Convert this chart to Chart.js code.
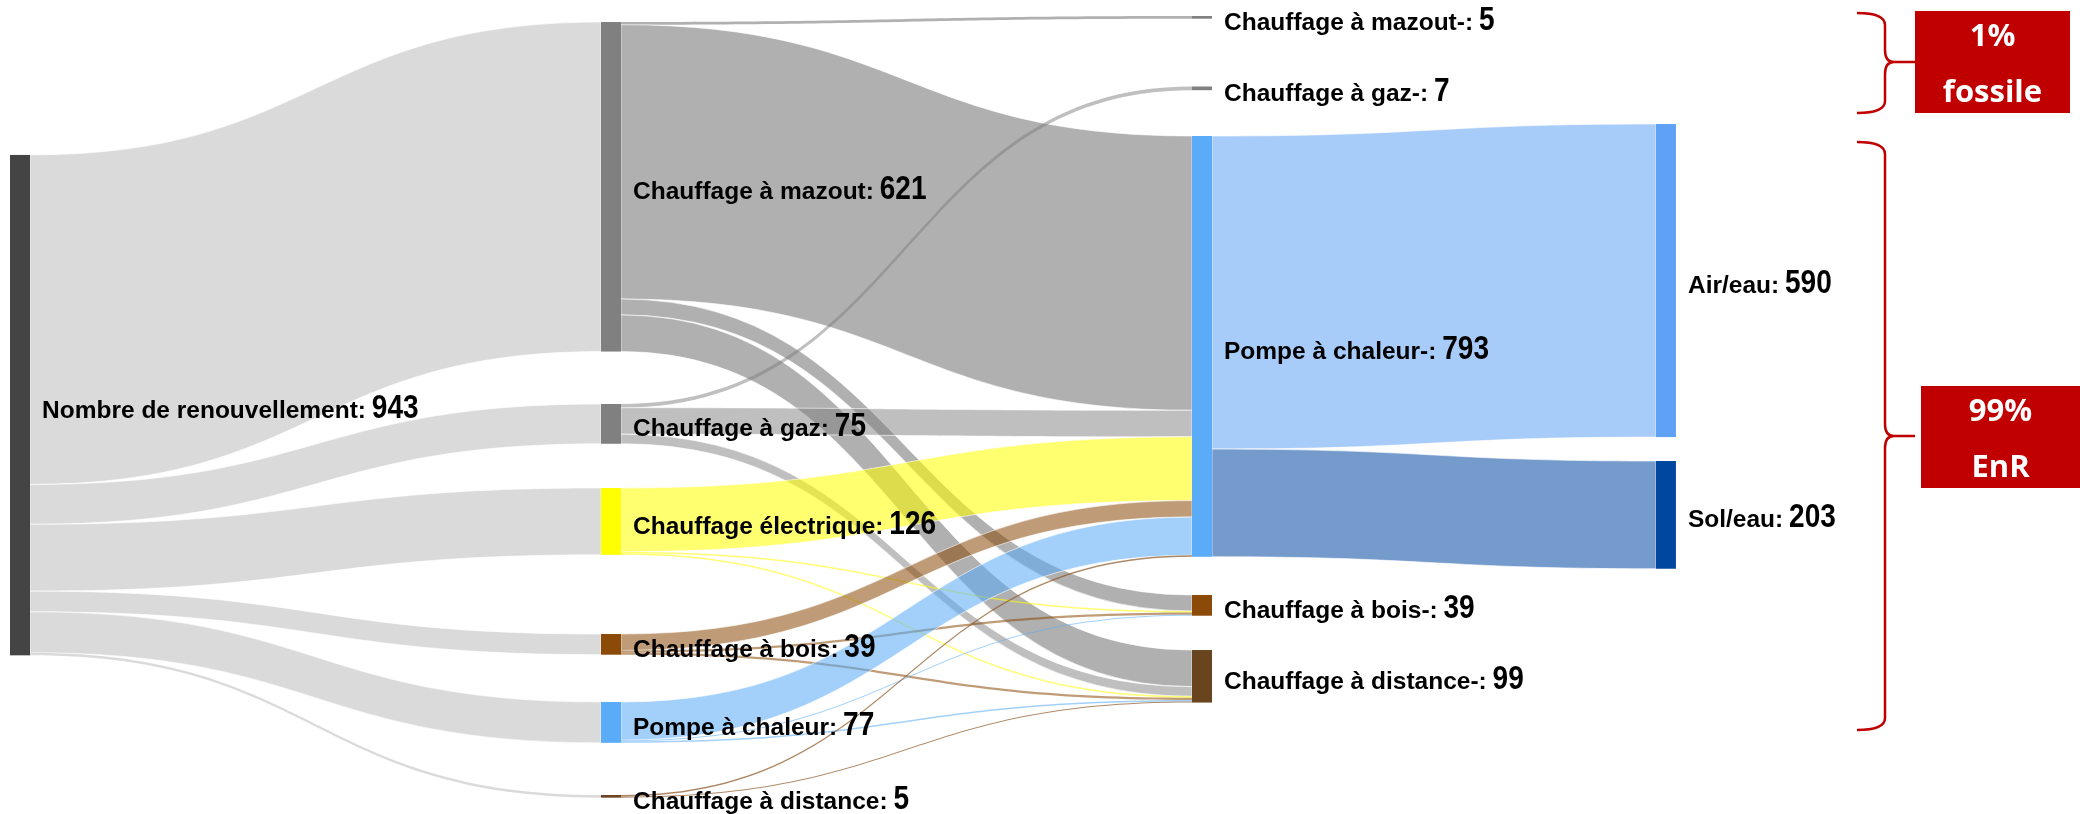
<!DOCTYPE html>
<html>
<head>
<meta charset="utf-8">
<script src="https://cdn.jsdelivr.net/npm/chart.js@4.4.1/dist/chart.umd.min.js"></script>
<style>
  html, body { margin: 0; padding: 0; background: #fff; }
</style>
</head>
<body>
<canvas id="sankey" width="2080" height="814"></canvas>
<script>
// nodes, column by column
const nodeNames = [
    'Nombre de renouvellement',
    'Chauffage à mazout', 'Chauffage à gaz', 'Chauffage électrique',
    'Chauffage à bois', 'Pompe à chaleur', 'Chauffage à distance',
    'Chauffage à mazout-', 'Chauffage à gaz-', 'Pompe à chaleur-',
    'Chauffage à bois-', 'Chauffage à distance-',
    'Air/eau', 'Sol/eau'
];
const nodeColumn = [0, 1, 1, 1, 1, 1, 1, 2, 2, 2, 2, 2, 3, 3];

// flows (source -> target)
const linkFrom = [0, 0, 0, 0, 0, 0,   1, 1, 1, 1,   2, 2, 2,   3, 3, 3,   4, 4, 4,   5, 5, 5,   6, 6,   9, 9];
const linkTo   = [1, 2, 3, 4, 5, 6,   7, 9, 10, 11, 8, 9, 11,  9, 10, 11, 9, 10, 11, 9, 10, 11, 9, 11,  12, 13];
const linkFlow = [621, 75, 126, 39, 77, 5,
                  5, 517, 30, 69,
                  7, 50, 18,
                  120, 3, 3,
                  31, 4, 4,
                  72, 2, 3,
                  3, 2,
                  590, 203];

// layout: column position on x, node top on the y (flow units)
const columnX = [0, 1, 2, 2.785];
const nodeTop = [292, 41.5, 761.3, 919.6, 1194.8, 1322.9, 1498.2, 30.2, 163, 256.3, 1121.3, 1225, 233.7, 868.8];
const nodeWidth = 20;

const nodeColors = ['#444444',
    '#808080', '#808080', '#ffff00', '#8b4a08', '#5aacf8', '#6b4523',
    '#808080', '#808080', '#5aacf8', '#8b4a08', '#68441f',
    '#5fa1f5', '#0047a0'];
const linkColorBySource = {
    0: 'rgba(204,204,204,0.72)',
    1: 'rgba(128,128,128,0.62)',
    2: 'rgba(128,128,128,0.5)',
    3: 'rgba(255,255,0,0.56)',
    4: 'rgba(139,74,8,0.55)',
    5: 'rgba(90,172,248,0.56)',
    6: 'rgba(140,85,35,0.7)'
};
const linkColorByTarget = {
    12: 'rgba(95,161,245,0.54)',
    13: 'rgba(0,71,160,0.54)'
};

function nodeValues() {
    const inSum = nodeNames.map(() => 0), outSum = nodeNames.map(() => 0);
    linkFlow.forEach((v, i) => { outSum[linkFrom[i]] += v; inSum[linkTo[i]] += v; });
    return nodeNames.map((n, i) => Math.max(inSum[i], outSum[i]));
}

function brace(ctx, xl, xm, xp, top, mid, bot) {
    const r = 12;
    ctx.beginPath();
    ctx.moveTo(xl, top);
    ctx.quadraticCurveTo(xm, top, xm, top + r);
    ctx.lineTo(xm, mid - r);
    ctx.quadraticCurveTo(xm, mid, xm + 9, mid);
    ctx.lineTo(xp, mid);
    ctx.moveTo(xm + 9, mid);
    ctx.quadraticCurveTo(xm, mid, xm, mid + r);
    ctx.lineTo(xm, bot - r);
    ctx.quadraticCurveTo(xm, bot, xl, bot);
    ctx.stroke();
}

function redBox(ctx, x0, y0, x1, y1, line1, line2) {
    ctx.fillStyle = '#c00000';
    ctx.fillRect(x0, y0, x1 - x0, y1 - y0);
    ctx.fillStyle = '#ffffff';
    ctx.font = 'bold 31px "Open Sans"';
    ctx.textAlign = 'center';
    ctx.textBaseline = 'alphabetic';
    const cx = (x0 + x1) / 2;
    ctx.fillText(line1, cx, y0 + 35);
    ctx.fillText(line2, cx, y0 + 91);
    ctx.textAlign = 'left';
}

const sankeyPlugin = {
    id: 'sankey',
    beforeDatasetsDraw(chart) {
        const ctx = chart.ctx;
        const x = chart.scales.x, y = chart.scales.y;
        const values = nodeValues();
        const outPos = nodeTop.slice(), inPos = nodeTop.slice();

        ctx.save();
        linkFlow.forEach((v, i) => {
            const s = linkFrom[i], t = linkTo[i];
            const x0 = x.getPixelForValue(columnX[nodeColumn[s]]) + nodeWidth;
            const x1 = x.getPixelForValue(columnX[nodeColumn[t]]);
            const a0 = y.getPixelForValue(outPos[s]), b0 = y.getPixelForValue(outPos[s] + v);
            const a1 = y.getPixelForValue(inPos[t]), b1 = y.getPixelForValue(inPos[t] + v);
            outPos[s] += v;
            inPos[t] += v;
            const xm = (x0 + x1) / 2;
            ctx.beginPath();
            ctx.moveTo(x0, a0);
            ctx.bezierCurveTo(xm, a0, xm, a1, x1, a1);
            ctx.lineTo(x1, b1);
            ctx.bezierCurveTo(xm, b1, xm, b0, x0, b0);
            ctx.closePath();
            ctx.fillStyle = linkColorByTarget[t] || linkColorBySource[s];
            ctx.fill();
            if (b0 - a0 > 6) {
                ctx.strokeStyle = 'rgba(255,255,255,0.6)';
                ctx.lineWidth = 1;
                ctx.stroke();
            }
        });

        nodeNames.forEach((n, i) => {
            const left = x.getPixelForValue(columnX[nodeColumn[i]]);
            const top = y.getPixelForValue(nodeTop[i]);
            const bottom = y.getPixelForValue(nodeTop[i] + values[i]);
            ctx.fillStyle = nodeColors[i];
            ctx.fillRect(left, top, nodeWidth, bottom - top);
        });
        ctx.restore();
    },
    afterDatasetsDraw(chart) {
        const ctx = chart.ctx;
        const x = chart.scales.x, y = chart.scales.y;
        const values = nodeValues();
        ctx.save();
        ctx.fillStyle = '#000000';
        ctx.textBaseline = 'alphabetic';
        ctx.textAlign = 'left';
        nodeNames.forEach((n, i) => {
            const lx = x.getPixelForValue(columnX[nodeColumn[i]]) + nodeWidth + 12;
            const cy = (y.getPixelForValue(nodeTop[i]) + y.getPixelForValue(nodeTop[i] + values[i])) / 2;
            const base = cy + 12.5;
            ctx.font = 'bold 24.5px "Liberation Sans", Arial, sans-serif';
            const name = n + ': ';
            ctx.fillText(name, lx, base);
            const w = ctx.measureText(name).width - 1;
            // value: larger, slightly condensed digits
            ctx.font = 'bold 33px "Liberation Sans", Arial, sans-serif';
            ctx.save();
            ctx.translate(lx + w, base);
            ctx.scale(0.85, 1);
            ctx.fillText(String(values[i]), 0, 0);
            ctx.restore();
        });
        ctx.restore();
    },
    afterDraw(chart) {
        const ctx = chart.ctx;
        ctx.save();
        ctx.strokeStyle = '#c00000';
        ctx.lineWidth = 2.5;
        brace(ctx, 1857, 1885, 1915, 13, 62, 113);
        brace(ctx, 1857, 1885, 1915, 142, 436, 730);
        redBox(ctx, 1915, 11, 2070, 113, '1%', 'fossile');
        redBox(ctx, 1921, 386, 2080, 488, '99%', 'EnR');
        ctx.restore();
    }
};

new Chart(document.getElementById('sankey'), {
    type: 'scatter',
    data: {
        datasets: [{
            data: nodeNames.map((n, i) => ({ x: columnX[nodeColumn[i]], y: nodeTop[i] })),
            pointRadius: 0
        }]
    },
    options: {
        responsive: false,
        animation: false,
        layout: { padding: 0 },
        plugins: {
            legend: { display: false },
            tooltip: { enabled: false }
        },
        scales: {
            x: { type: 'linear', display: false, min: -0.01692, max: 3.50254 },
            y: { type: 'linear', display: false, min: 0, max: 1534, reverse: true }
        }
    },
    plugins: [sankeyPlugin]
});
</script>
</body>
</html>
